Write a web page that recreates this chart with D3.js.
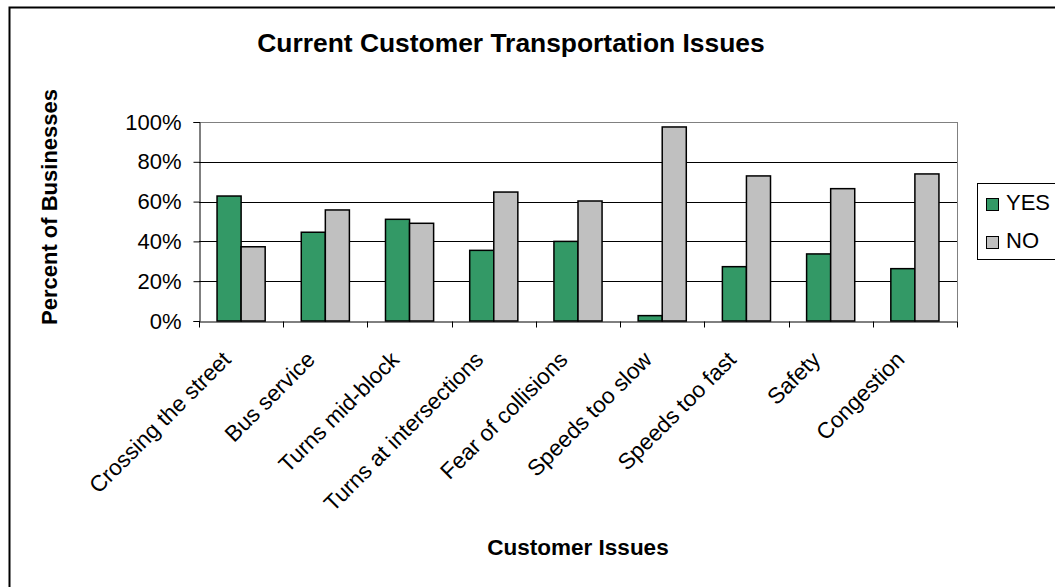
<!DOCTYPE html>
<html>
<head>
<meta charset="utf-8">
<script src="https://cdn.jsdelivr.net/npm/d3@7"></script>
<style>
  body { margin: 0; background: #fff; }
  svg { display: block; font-family: "Liberation Sans", Arial, sans-serif; }
</style>
</head>
<body>
<svg id="chart" width="1055" height="587"></svg>
<script>
const categories = [
  "Crossing the street",
  "Bus service",
  "Turns mid-block",
  "Turns at intersections",
  "Fear of collisions",
  "Speeds too slow",
  "Speeds too fast",
  "Safety",
  "Congestion"
];
const yesValues = [62.8, 44.6, 51.1, 35.5, 40.0, 2.7, 27.3, 33.7, 26.3];
const noValues = [37.3, 55.8, 49.1, 64.8, 60.3, 97.5, 72.9, 66.5, 73.9];
const seriesNames = ["YES", "NO"];
const seriesColors = ["#339966", "#c0c0c0"];
const yTicks = [0, 20, 40, 60, 80, 100];

const svg = d3.select("#chart");
const plot = { left: 199, right: 957, top: 122, bottom: 321 };

// outer chart border
svg.append("rect")
  .attr("x", 9.5).attr("y", 7.5)
  .attr("width", 1100).attr("height", 700)
  .attr("fill", "none").attr("stroke", "#000").attr("stroke-width", 2);

const x = d3.scaleBand().domain(categories).range([plot.left, plot.right]).paddingInner(0).paddingOuter(0);
const groupPad = x.bandwidth() * 1.5 / 3.5 / 2;
const xInner = d3.scaleBand().domain(seriesNames).range([groupPad, x.bandwidth() - groupPad]);
const y = d3.scaleLinear().domain([0, 100]).range([plot.bottom, plot.top]);

// gridlines
svg.append("g")
  .selectAll("line")
  .data(yTicks.filter((t) => t > 0))
  .join("line")
  .attr("x1", plot.left).attr("x2", plot.right)
  .attr("y1", (t) => Math.round(y(t)) + 0.5).attr("y2", (t) => Math.round(y(t)) + 0.5)
  .attr("stroke", (t) => t === 100 ? "#808080" : "#000")
  .attr("stroke-width", 1);

// right border of plot
svg.append("line")
  .attr("x1", plot.right + 0.5).attr("x2", plot.right + 0.5)
  .attr("y1", plot.top).attr("y2", plot.bottom)
  .attr("stroke", "#808080");

const rows = categories.map((name, index) => ({ name, values: [yesValues[index], noValues[index]] }));

svg.append("g")
  .selectAll("g")
  .data(rows)
  .join("g")
  .attr("transform", (row) => `translate(${x(row.name)},0)`)
  .selectAll("rect")
  .data((row) => row.values.map((value, index) => ({ value, index })))
  .join("rect")
  .attr("x", (item) => xInner(seriesNames[item.index]))
  .attr("y", (item) => y(item.value))
  .attr("width", xInner.bandwidth())
  .attr("height", (item) => plot.bottom - y(item.value))
  .attr("fill", (item) => seriesColors[item.index])
  .attr("stroke", "#000")
  .attr("stroke-width", 1.5);

// y axis
const yAxis = d3.axisLeft(y).tickValues(yTicks).tickSize(6).tickPadding(12).tickFormat((t) => t + "%");
svg.append("g")
  .attr("transform", `translate(${plot.left + 0.5},0)`)
  .call(yAxis)
  .call((g) => g.select(".domain").attr("stroke", "#000"))
  .call((g) => g.selectAll(".tick line").attr("stroke", "#000"))
  .call((g) => g.selectAll(".tick text").attr("font-size", 22).attr("fill", "#000").attr("font-family", "Liberation Sans, Arial, sans-serif"));

// x axis
const xAxis = d3.axisBottom(x).tickSize(0).tickFormat("");
const xg = svg.append("g")
  .attr("transform", `translate(0,${plot.bottom + 0.5})`)
  .call(xAxis);
xg.select(".domain").attr("stroke", "#000");
xg.selectAll(".sep")
  .data(d3.range(categories.length + 1))
  .join("line")
  .attr("class", "sep")
  .attr("x1", (i) => Math.round(plot.left + i * x.step()) + 0.5)
  .attr("x2", (i) => Math.round(plot.left + i * x.step()) + 0.5)
  .attr("y1", 0).attr("y2", 6)
  .attr("stroke", "#000");

svg.append("g")
  .selectAll("text")
  .data(categories)
  .join("text")
  .attr("transform", (name) => `translate(${x(name) + x.bandwidth() / 2 - 9},${plot.bottom + 40}) rotate(-45)`)
  .attr("text-anchor", "end")
  .attr("font-size", 22.5)
  .text((name) => name);

// titles
svg.append("text")
  .attr("x", 511).attr("y", 52)
  .attr("text-anchor", "middle")
  .attr("font-size", 26.4).attr("font-weight", "bold")
  .text("Current Customer Transportation Issues");

svg.append("text")
  .attr("x", (plot.left + plot.right) / 2).attr("y", 555)
  .attr("text-anchor", "middle")
  .attr("font-size", 22.5).attr("font-weight", "bold")
  .text("Customer Issues");

svg.append("text")
  .attr("transform", `translate(57,207) rotate(-90)`)
  .attr("text-anchor", "middle")
  .attr("font-size", 22).attr("font-weight", "bold")
  .text("Percent of Businesses");

// legend
const legend = svg.append("g");
legend.append("rect")
  .attr("x", 977.5).attr("y", 183.5)
  .attr("width", 200).attr("height", 76)
  .attr("fill", "#fff").attr("stroke", "#000");
const legendItem = legend.selectAll("g")
  .data(seriesNames)
  .join("g")
  .attr("transform", (name, index) => `translate(986,${198 + index * 38})`);
legendItem.append("rect")
  .attr("x", 0.5).attr("y", 0.5)
  .attr("width", 12).attr("height", 12)
  .attr("fill", (name, index) => seriesColors[index])
  .attr("stroke", "#000");
legendItem.append("text")
  .attr("x", 20).attr("y", 11.5)
  .attr("font-size", 22)
  .text((name) => name);
</script>
</body>
</html>
